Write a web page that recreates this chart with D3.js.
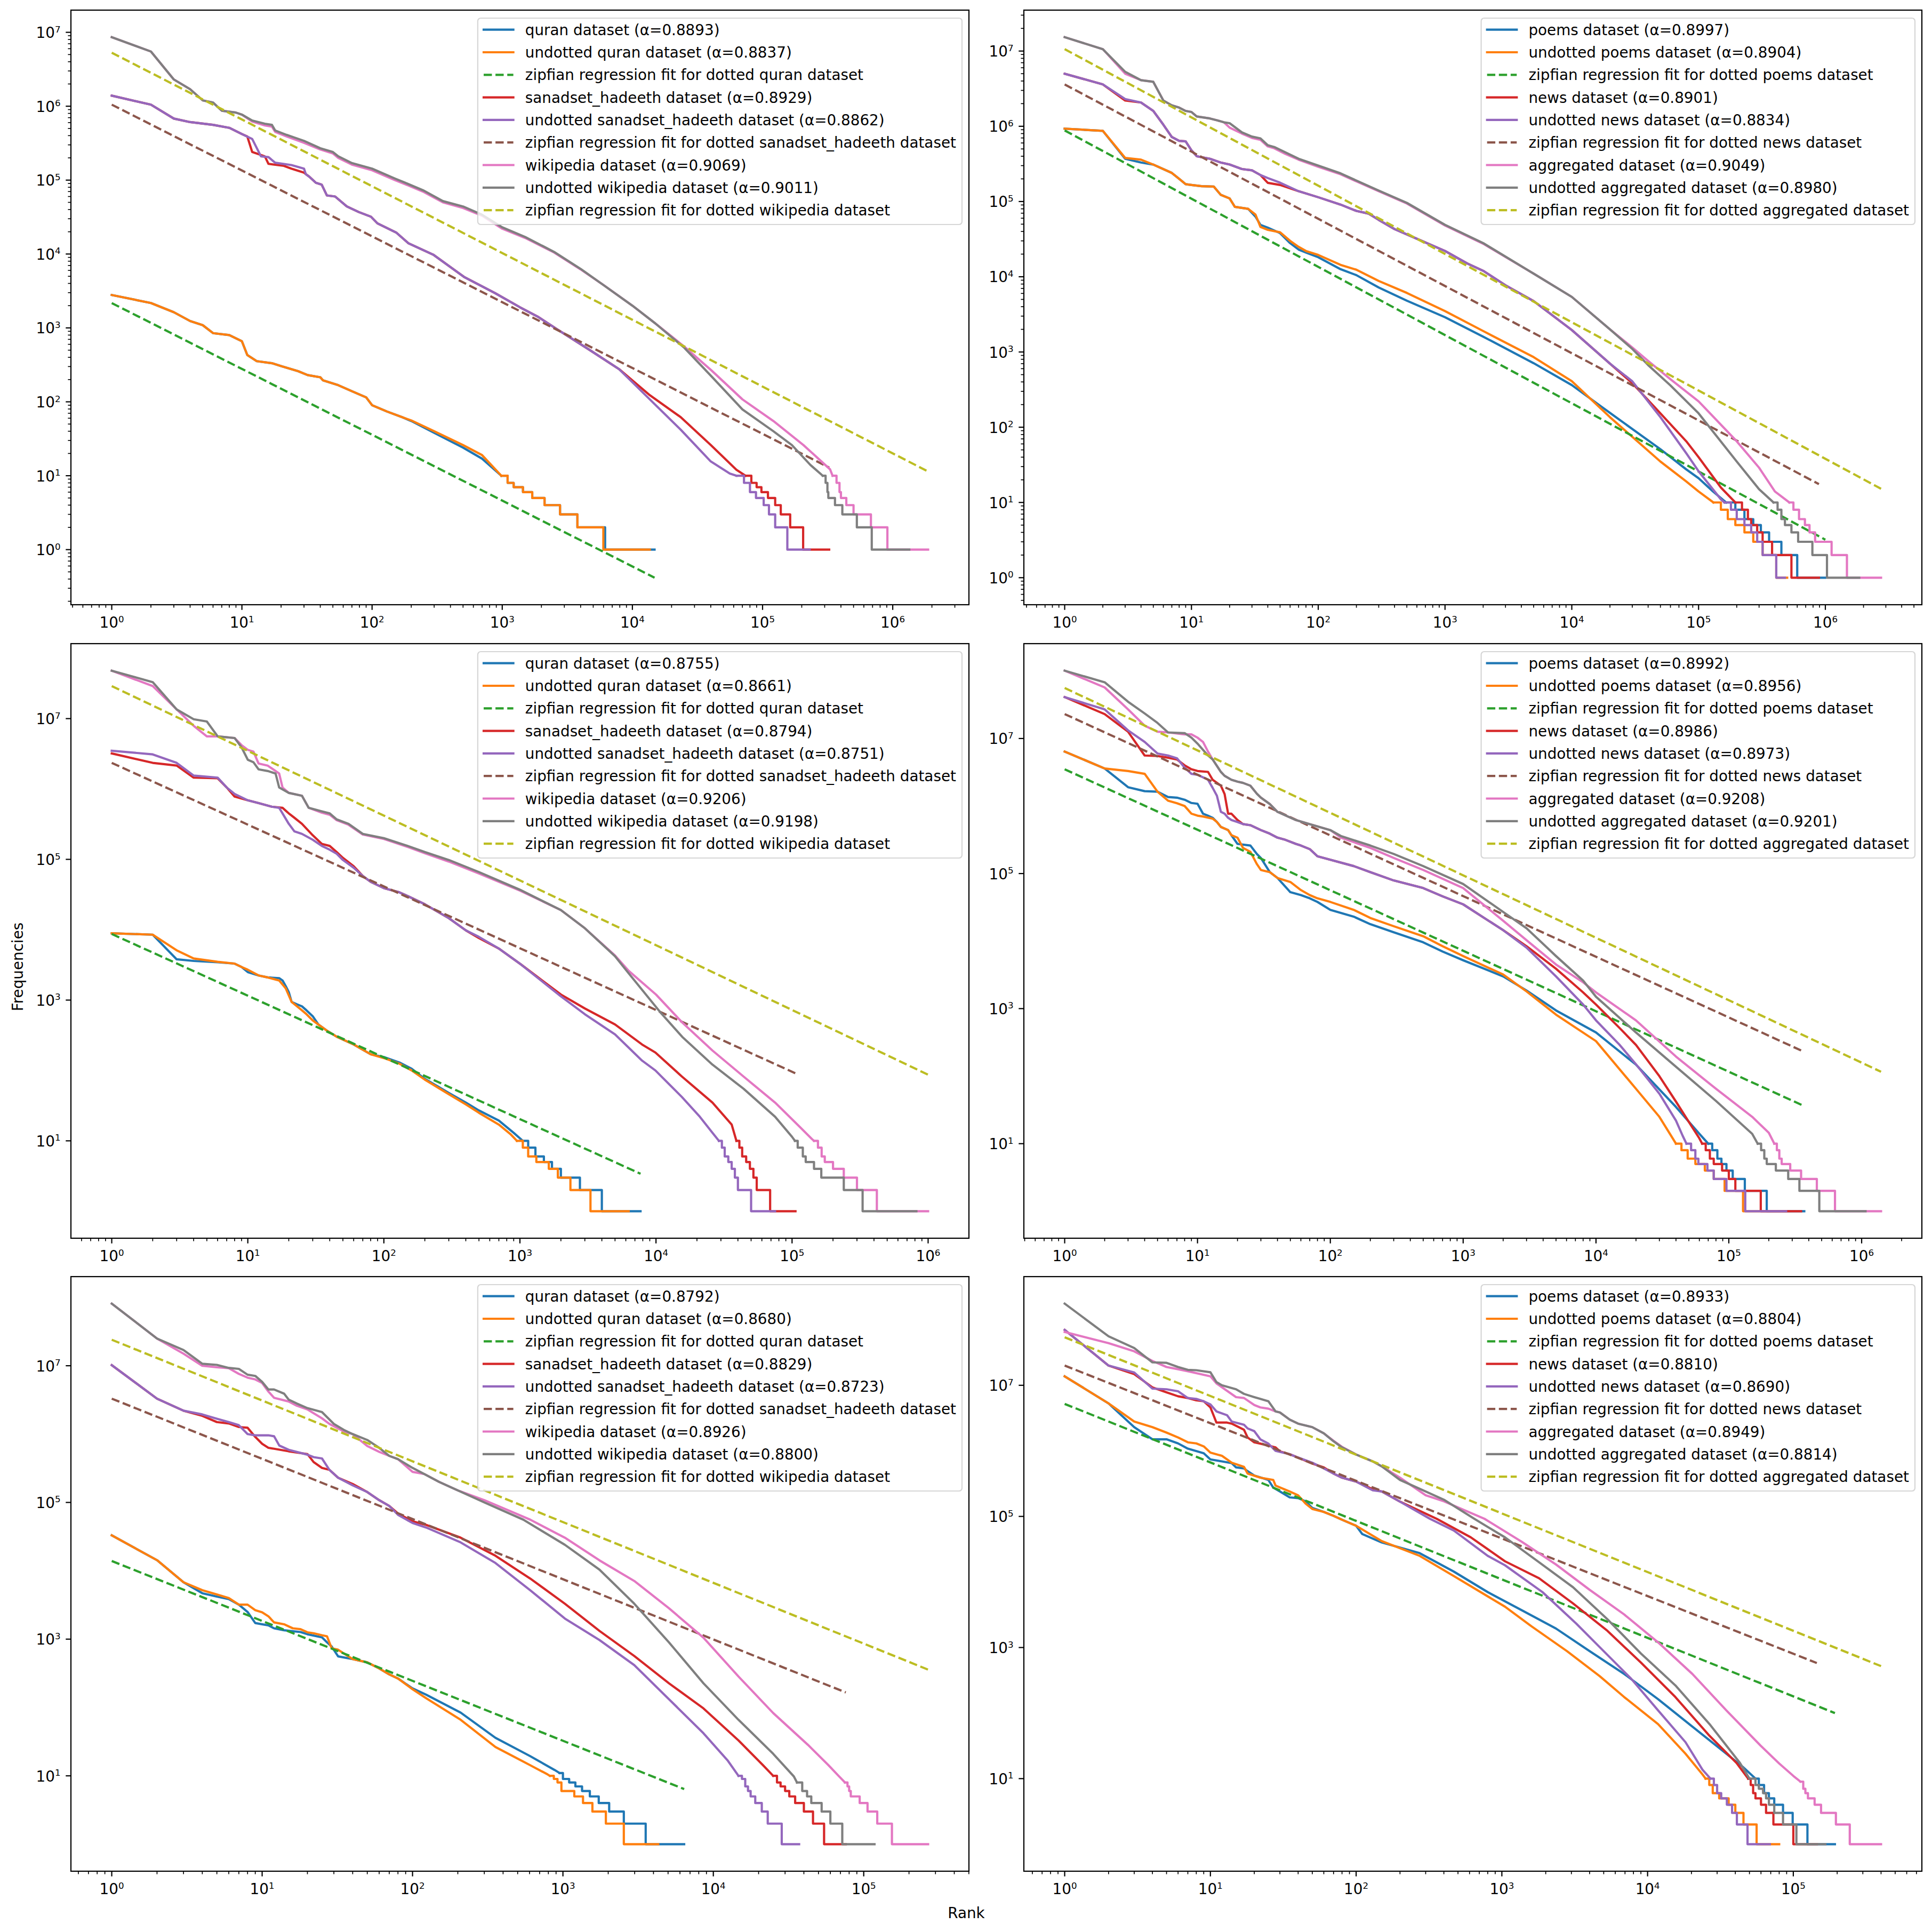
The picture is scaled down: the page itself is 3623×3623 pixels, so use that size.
<!DOCTYPE html>
<html>
<head>
<meta charset="utf-8">
<script src="https://cdn.jsdelivr.net/npm/d3@7"></script>
<style>
  body { margin: 0; background: #fff; }
  text { font-family: "DejaVu Sans", sans-serif; fill: #000; }
</style>
</head>
<body>
<svg id="fig" width="3623" height="3623"></svg>
<script>
/* ---------- data: [rank, frequency] ---------- */
/* each curve: smooth head + stair tail (tail drawn as steps)        */

// top-left
const a_names = ["quran", "sanadset_hadeeth", "wikipedia"]
const a_alphas = ["0.8893", "0.8837", "0.8929", "0.8862", "0.9069", "0.9011"]
const a_quran = [[1,2790],[2,2170],[3,1630],[4,1240],[5,1090],[6,850],[8,800],[10,660],[11,430],[13,355],[17,333],[20,305],[27,260],[32,230],[40,215],[42,195],[55,168],[70,139],[90,115],[100,90],[130,74],[170,62],[200,55],[300,38],[500,24],[700,17]]
const a_quranTail = [[984,10],[1100,8],[1224,7],[1443,6],[1700,5],[2114,4],[2780,3],[3780,2],[6170,1],[14800,1]]
const a_quranUnd = [[1,2790],[2,2170],[3,1630],[4,1240],[5,1090],[6,850],[8,800],[10,660],[11,430],[13,355],[17,333],[20,305],[27,260],[32,230],[40,215],[42,195],[55,168],[70,139],[90,115],[100,90],[130,74],[170,62],[200,56],[300,40],[500,26],[700,19]]
const a_quranUndTail = [[984,10],[1100,8],[1224,7],[1443,6],[1700,5],[2114,4],[2780,3],[3780,2],[5980,1],[13600,1]]
const a_quranFit = [[1,2170],[14800,0.417]]
const a_hadeeth = [[1,1.39e6],[2,1.05e6],[3,6.8e5],[4,6.1e5],[6,5.6e5],[8,5.1e5],[10,4.2e5],[11,3.9e5],[12,2.4e5],[15,2.1e5],[16,1.66e5],[21,1.56e5],[24,1.43e5],[30,1.26e5],[33,1.11e5],[37,9.2e4],[41,8.7e4],[45,6.2e4],[52,6.0e4],[64,4.4e4],[79,3.7e4],[98,3.2e4],[110,2.6e4],[154,1.94e4],[190,1.4e4],[295,9.8e3],[509,4.9e3],[880,2.96e3],[1370,1.9e3],[1900,1.4e3],[2640,960],[4600,515],[7900,277],[13600,123],[23500,62],[40000,26],[63000,12]]
const a_hadeethTail = [[7.4e4,10],[8.2e4,8],[9.0e4,7],[9.8e4,6],[1.1e5,5],[1.25e5,4],[1.38e5,3],[1.63e5,2],[2.05e5,1],[3.25e5,1]]
const a_hadeethUnd = [[1,1.39e6],[2,1.05e6],[3,6.8e5],[4,6.1e5],[6,5.6e5],[8,5.1e5],[10,4.2e5],[12,3.6e5],[14,2.1e5],[16,2.05e5],[18,1.72e5],[24,1.6e5],[30,1.43e5],[31,1.2e5],[33,1.11e5],[37,9.2e4],[41,8.7e4],[45,6.2e4],[52,6.0e4],[64,4.4e4],[79,3.7e4],[98,3.2e4],[110,2.6e4],[154,1.94e4],[190,1.4e4],[295,9.8e3],[509,4.9e3],[880,2.96e3],[1370,1.9e3],[1900,1.4e3],[2640,960],[4600,515],[7900,277],[13600,108],[23500,42],[40000,15.6],[56000,10.7]]
const a_hadeethUndTail = [[6.3e4,10],[7.2e4,8],[8.0e4,6],[8.9e4,5],[1.02e5,4],[1.12e5,3],[1.25e5,2],[1.55e5,1],[2.3e5,1]]
const a_hadeethFit = [[1,1.05e6],[3.25e5,12.9]]
const a_wiki = [[1,8.6e6],[2,5.5e6],[3,2.3e6],[4,1.7e6],[5,1.2e6],[6,1.12e6],[7,8.7e5],[9,8.2e5],[10,7.7e5],[12,6.2e5],[15,5.5e5],[17,5.3e5],[18,4.5e5],[22,3.9e5],[30,3.2e5],[40,2.6e5],[50,2.3e5],[55,2.0e5],[70,1.62e5],[100,1.36e5],[150,1.0e5],[180,8.8e4],[250,6.9e4],[350,5.0e4],[500,4.2e4],[700,3.3e4],[1000,2.2e4],[1500,1.65e4],[2500,1.05e4],[4000,6.2e3],[6000,3.8e3],[10000,2.0e3],[15000,1.15e3],[25000,560],[40600,265],[70000,108],[121000,55],[206000,26],[330000,12.2]]
const a_wikiTail = [[3.45e5,10],[3.7e5,8],[3.9e5,6],[4.0e5,5],[4.4e5,4],[5.0e5,3],[6.8e5,2],[9.1e5,1],[1.87e6,1]]
const a_wikiUnd = [[1,8.6e6],[2,5.5e6],[3,2.3e6],[4,1.7e6],[5,1.2e6],[6,1.12e6],[7,8.7e5],[9,8.2e5],[10,7.7e5],[12,6.4e5],[15,5.8e5],[17,5.6e5],[18,4.7e5],[22,4.1e5],[30,3.4e5],[40,2.7e5],[50,2.4e5],[55,2.1e5],[70,1.7e5],[100,1.43e5],[150,1.05e5],[180,9.2e4],[250,7.2e4],[350,5.2e4],[500,4.4e4],[700,3.4e4],[1000,2.3e4],[1500,1.7e4],[2500,1.07e4],[4000,6.3e3],[6000,3.8e3],[10000,2.0e3],[15000,1.15e3],[25000,540],[40600,220],[70000,79],[121000,40],[168000,26],[233000,14]]
const a_wikiUndTail = [[2.9e5,10],[3.05e5,8],[3.15e5,6],[3.2e5,5],[3.6e5,4],[4.1e5,3],[5.3e5,2],[6.9e5,1],[1.34e6,1]]
const a_wikiFit = [[1,5.3e6],[1.87e6,11.4]]

// top-right
const b_names = ["poems", "news", "aggregated"]
const b_alphas = ["0.8997", "0.8904", "0.8901", "0.8834", "0.9049", "0.8980"]
const b_poems = [[1,9.3e5],[2,8.7e5],[3,3.7e5],[4,3.3e5],[5,3.1e5],[7,2.4e5],[8,2.0e5],[9,1.7e5],[10,1.66e5],[12,1.6e5],[15,1.58e5],[17,1.23e5],[20,1.1e5],[22,8.5e4],[28,8.0e4],[32,6.3e4],[35,4.9e4],[40,4.5e4],[50,3.8e4],[60,2.8e4],[70,2.3e4],[80,2.1e4],[100,1.82e4],[150,1.26e4],[200,1.05e4],[300,7.2e3],[500,4.8e3],[1000,2.9e3],[2000,1.6e3],[5000,710],[10000,363],[20000,155],[50000,51],[80000,27.5],[100000,21],[130000,14]]
const b_poemsTail = [[1.65e5,10],[1.95e5,8],[2.3e5,6],[2.7e5,5],[3.1e5,4],[3.6e5,3],[4.5e5,2],[6.0e5,1],[1.0e6,1]]
const b_poemsUnd = [[1,9.3e5],[2,8.7e5],[3,3.8e5],[4,3.6e5],[5,3.1e5],[7,2.4e5],[8,2.0e5],[9,1.7e5],[10,1.66e5],[12,1.6e5],[15,1.58e5],[17,1.23e5],[20,1.1e5],[22,8.5e4],[28,8.0e4],[32,6.7e4],[35,4.6e4],[40,4.2e4],[50,3.9e4],[60,3.0e4],[70,2.5e4],[80,2.2e4],[100,1.95e4],[150,1.44e4],[200,1.24e4],[300,8.8e3],[500,6.1e3],[1000,3.5e3],[2000,1.9e3],[5000,855],[10000,409],[20000,136],[50000,35],[80000,19],[100000,14]]
const b_poemsUndTail = [[1.31e5,10],[1.5e5,8],[1.7e5,6],[1.95e5,5],[2.3e5,4],[2.7e5,3],[3.2e5,2],[4.1e5,1],[5.0e5,1]]
const b_poemsFit = [[1,8.8e5],[1.0e6,3.2]]
const b_news = [[1,5.0e6],[2,3.6e6],[3,2.2e6],[4,2.07e6],[5,1.6e6],[6,1.05e6],[7,7.2e5],[8,6.4e5],[9,6.3e5],[10,4.8e5],[11,4.0e5],[14,3.7e5],[17,3.3e5],[20,3.1e5],[25,2.7e5],[30,2.6e5],[35,2.25e5],[40,1.77e5],[50,1.66e5],[70,1.37e5],[100,1.14e5],[150,9.1e4],[200,7.5e4],[250,6.9e4],[300,5.7e4],[400,4.3e4],[600,3.2e4],[1000,2.2e4],[1500,1.5e4],[2000,1.2e4],[3000,7.7e3],[5000,4.75e3],[10000,1.96e3],[20000,700],[30000,385],[50000,153],[80000,65],[100000,40],[150000,15.8]]
const b_newsTail = [[1.95e5,10],[2.2e5,8],[2.45e5,6],[2.6e5,5],[2.9e5,4],[3.2e5,3],[3.8e5,2],[5.4e5,1],[8.9e5,1]]
const b_newsUnd = [[1,5.0e6],[2,3.6e6],[3,2.3e6],[4,2.07e6],[5,1.6e6],[6,1.05e6],[7,7.2e5],[8,6.4e5],[9,6.3e5],[10,4.8e5],[11,4.0e5],[14,3.7e5],[17,3.3e5],[20,3.1e5],[25,2.7e5],[30,2.6e5],[35,2.25e5],[40,2.05e5],[50,1.78e5],[70,1.37e5],[100,1.14e5],[150,9.1e4],[200,7.5e4],[250,6.9e4],[300,5.7e4],[400,4.3e4],[600,3.2e4],[1000,2.2e4],[1500,1.5e4],[2000,1.2e4],[3000,7.7e3],[5000,4.75e3],[10000,1.96e3],[20000,700],[30000,408],[50000,136],[80000,45],[100000,26],[150000,11]]
const b_newsUndTail = [[1.6e5,10],[1.8e5,8],[2.0e5,6],[2.3e5,5],[2.6e5,4],[2.9e5,3],[3.2e5,2],[4.1e5,1],[4.8e5,1]]
const b_newsFit = [[1,3.6e6],[8.9e5,17.5]]
const b_agg = [[1,1.53e7],[2,1.06e7],[3,5.0e6],[4,4.1e6],[5,3.9e6],[6,2.2e6],[7,1.9e6],[8,1.77e6],[9,1.6e6],[10,1.55e6],[11,1.35e6],[14,1.27e6],[16,1.2e6],[18,1.13e6],[20,9.6e5],[25,8.0e5],[30,7.0e5],[35,6.6e5],[40,5.4e5],[45,5.1e5],[55,4.3e5],[70,3.6e5],[100,2.9e5],[150,2.3e5],[200,1.85e5],[300,1.37e5],[500,9.4e4],[1000,4.8e4],[2000,2.75e4],[5000,1.1e4],[10000,5.4e3],[20000,2.0e3],[30000,1.15e3],[40000,760],[60000,435],[100000,221],[200000,65],[300000,29],[400000,14]]
const b_aggTail = [[5.2e5,10],[5.6e5,8],[6.2e5,6],[6.9e5,5],[7.5e5,4],[8.3e5,3],[1.12e6,2],[1.48e6,1],[2.75e6,1]]
const b_aggUnd = [[1,1.53e7],[2,1.06e7],[3,5.3e6],[4,4.1e6],[5,3.9e6],[6,2.2e6],[7,1.9e6],[8,1.77e6],[9,1.6e6],[10,1.55e6],[11,1.35e6],[14,1.27e6],[16,1.2e6],[18,1.13e6],[20,1.1e6],[25,8.3e5],[30,7.3e5],[35,6.9e5],[40,5.6e5],[45,5.3e5],[55,4.5e5],[70,3.7e5],[100,3.0e5],[150,2.37e5],[200,1.9e5],[300,1.4e5],[500,9.6e4],[1000,4.9e4],[2000,2.8e4],[5000,1.1e4],[10000,5.4e3],[20000,2.0e3],[30000,1.1e3],[40000,670],[60000,360],[100000,153],[200000,35],[300000,15]]
const b_aggUndTail = [[3.9e5,10],[4.2e5,8],[4.5e5,6],[4.8e5,5],[5.4e5,4],[6.1e5,3],[7.9e5,2],[1.03e6,1],[1.85e6,1]]
const b_aggFit = [[1,1.06e7],[2.75e6,15.2]]

// middle-left
const c_names = ["quran", "sanadset_hadeeth", "wikipedia"]
const c_alphas = ["0.8755", "0.8661", "0.8794", "0.8751", "0.9206", "0.9198"]
const c_quran = [[1,8.9e3],[2,8.5e3],[3,3.8e3],[4,3.6e3],[6,3.45e3],[8,3.3e3],[9,2.95e3],[10,2.5e3],[12,2.24e3],[14,2.1e3],[17,2.05e3],[18,1.9e3],[19,1.58e3],[20,1.3e3],[21,940],[23,870],[25,815],[27,715],[30,590],[33,450],[38,370],[45,302],[60,234],[80,170],[100,155],[130,130],[160,106],[200,76],[250,59],[300,48],[400,35],[500,27],[700,19.4],[900,13]]
const c_quranTail = [[1050,10],[1150,8],[1300,6],[1500,5],[1720,4],[2000,3],[2760,2],[4000,1],[7700,1]]
const c_quranUnd = [[1,8.9e3],[2,8.5e3],[3,5.1e3],[4,3.9e3],[6,3.5e3],[8,3.3e3],[9,2.95e3],[10,2.7e3],[12,2.24e3],[14,2.1e3],[17,1.9e3],[19,1.47e3],[21,940],[25,715],[27,630],[30,515],[33,450],[38,370],[45,302],[60,234],[80,170],[100,150],[130,125],[160,100],[200,74],[250,57],[300,46],[400,33],[500,25],[700,17],[850,12.5]]
const c_quranUndTail = [[950,10],[1050,8],[1150,6],[1320,5],[1630,4],[1900,3],[2350,2],[3300,1],[6300,1]]
const c_quranFit = [[1,8.7e3],[7.7e3,3.4]]
const c_hadeeth = [[1,3.2e6],[2,2.35e6],[3,2.15e6],[4,1.45e6],[6,1.42e6],[7,1.05e6],[8,7.8e5],[10,6.9e5],[12,6.3e5],[15,5.6e5],[18,5.4e5],[20,4.5e5],[22,3.9e5],[25,3.2e5],[30,2.2e5],[35,1.66e5],[40,1.55e5],[45,1.27e5],[50,1.05e5],[60,8.0e4],[70,5.8e4],[80,4.8e4],[100,3.9e4],[130,3.4e4],[150,3.0e4],[200,2.3e4],[300,1.46e4],[400,9.8e3],[500,7.6e3],[700,5.4e3],[1020,3.2e3],[2000,1.2e3],[3000,760],[5000,450],[7900,234],[9900,180],[15500,82],[26000,35],[36000,17]]
const c_hadeethTail = [[3.9e4,10],[4.1e4,8],[4.3e4,6],[4.6e4,5],[4.9e4,4],[5.2e4,3],[5.5e4,2],[6.9e4,1],[1.06e5,1]]
const c_hadeethUnd = [[1,3.5e6],[2,3.1e6],[3,2.35e6],[4,1.55e6],[6,1.45e6],[7,1.05e6],[8,8.5e5],[10,6.9e5],[12,6.3e5],[15,5.6e5],[17,5.4e5],[18,4.5e5],[20,3.2e5],[22,2.5e5],[25,2.3e5],[30,1.9e5],[35,1.55e5],[40,1.37e5],[45,1.2e5],[50,9.8e4],[60,7.6e4],[70,5.8e4],[80,4.8e4],[100,3.9e4],[130,3.4e4],[150,3.0e4],[200,2.3e4],[300,1.46e4],[400,9.8e3],[500,7.9e3],[700,5.4e3],[1020,3.2e3],[2000,1.13e3],[3000,630],[5000,325],[7900,138],[9900,100],[15500,42],[21000,22],[26000,13]]
const c_hadeethUndTail = [[2.9e4,10],[3.05e4,8],[3.2e4,6],[3.4e4,5],[3.6e4,4],[3.8e4,3],[4.0e4,2],[5.0e4,1],[7.5e4,1]]
const c_hadeethFit = [[1,2.35e6],[1.06e5,91]]
const c_wiki = [[1,4.8e7],[2,2.9e7],[3,1.35e7],[4,7.9e6],[5,5.6e6],[6,5.6e6],[8,5.3e6],[9,4.2e6],[10,3.6e6],[11,3.4e6],[12,2.3e6],[14,2.15e6],[17,1.66e6],[18,1.05e6],[20,8.8e5],[25,8.0e5],[28,5.4e5],[35,4.6e5],[40,4.3e5],[45,3.6e5],[55,3.1e5],[70,2.25e5],[100,1.95e5],[150,1.5e5],[200,1.22e5],[300,9.3e4],[500,6.3e4],[1000,3.6e4],[2000,1.9e4],[3000,1.05e4],[5000,4.3e3],[6300,2.6e3],[10000,1.2e3],[15600,480],[26000,192],[44000,82],[75000,35],[114000,15.8],[140000,10.6]]
const c_wikiTail = [[1.45e5,10],[1.55e5,8],[1.65e5,6],[1.74e5,5],[2.0e5,4],[2.4e5,3],[3.0e5,2],[4.2e5,1],[1.0e6,1]]
const c_wikiUnd = [[1,4.8e7],[2,3.3e7],[3,1.35e7],[4,9.8e6],[5,9.1e6],[6,5.6e6],[8,5.3e6],[9,3.9e6],[10,2.6e6],[11,2.4e6],[12,1.9e6],[14,1.8e6],[16,1.66e6],[17,1.05e6],[20,8.8e5],[25,8.0e5],[28,5.4e5],[35,4.8e5],[40,4.5e5],[45,3.7e5],[55,3.2e5],[70,2.3e5],[100,2.0e5],[150,1.55e5],[200,1.27e5],[300,9.8e4],[500,6.6e4],[1000,3.7e4],[2000,1.9e4],[3000,1.05e4],[5000,4.2e3],[6300,2.4e3],[10700,680],[15600,300],[26000,121],[44000,55],[75000,22],[100000,11.4]]
const c_wikiUndTail = [[1.05e5,10],[1.1e5,8],[1.2e5,6],[1.26e5,5],[1.45e5,4],[1.64e5,3],[2.4e5,2],[3.3e5,1],[8.2e5,1]]
const c_wikiFit = [[1,2.9e7],[1.0e6,87]]

// middle-right
const d_names = ["poems", "news", "aggregated"]
const d_alphas = ["0.8992", "0.8956", "0.8986", "0.8973", "0.9208", "0.9201"]
const d_poems = [[1,6.4e6],[2,3.6e6],[3,1.9e6],[4,1.66e6],[5,1.63e6],[6,1.36e6],[7,1.33e6],[8,1.24e6],[9,1.11e6],[10,1.08e6],[11,7.7e5],[12,7.2e5],[13,6.7e5],[14,5.8e5],[15,4.9e5],[17,4.4e5],[18,3.7e5],[20,2.75e5],[25,2.6e5],[28,1.95e5],[30,1.7e5],[35,1.05e5],[40,8.6e4],[50,5.3e4],[60,4.8e4],[70,4.3e4],[80,3.8e4],[100,2.9e4],[150,2.3e4],[200,1.78e4],[300,1.35e4],[500,9.6e3],[700,7.0e3],[1000,5.2e3],[2000,3.0e3],[3000,1.85e3],[5000,940],[10000,443],[20000,148],[40000,35],[60000,14]]
const d_poemsTail = [[7.0e4,10],[7.5e4,8],[8.2e4,6],[8.8e4,5],[9.6e4,4],[1.07e5,3],[1.32e5,2],[1.93e5,1],[3.7e5,1]]
const d_poemsUnd = [[1,6.4e6],[2,3.6e6],[3,3.3e6],[4,3.0e6],[5,1.63e6],[6,1.2e6],[7,1.1e6],[8,1.0e6],[9,7.7e5],[10,7.2e5],[11,7.0e5],[13,6.5e5],[14,5.8e5],[15,4.9e5],[17,4.4e5],[18,3.7e5],[20,3.4e5],[22,2.4e5],[25,2.1e5],[28,1.38e5],[30,1.13e5],[35,1.05e5],[40,8.6e4],[50,7.5e4],[60,5.7e4],[70,4.8e4],[80,4.3e4],[100,3.8e4],[150,2.9e4],[200,2.2e4],[300,1.66e4],[500,1.18e4],[700,8.4e3],[1000,6.0e3],[2000,3.2e3],[3000,1.8e3],[5000,815],[10000,330],[20000,65],[30000,25],[36000,14]]
const d_poemsUndTail = [[4.0e4,10],[4.4e4,8],[4.9e4,6],[5.6e4,5],[6.6e4,4],[7.7e4,3],[9.3e4,2],[1.28e5,1],[2.7e5,1]]
const d_poemsFit = [[1,3.5e6],[3.7e5,36]]
const d_news = [[1,4.1e7],[2,2.3e7],[3,1.26e7],[4,5.6e6],[5,5.5e6],[6,5.2e6],[7,4.9e6],[8,4.0e6],[9,3.5e6],[10,3.3e6],[12,3.2e6],[13,2.45e6],[15,2.0e6],[16,1.5e6],[17,7.7e5],[18,7.7e5],[20,6.2e5],[22,5.4e5],[25,5.2e5],[30,4.4e5],[35,3.9e5],[40,3.4e5],[45,3.2e5],[55,2.75e5],[60,2.6e5],[70,2.3e5],[80,1.8e5],[100,1.6e5],[150,1.29e5],[200,1.05e5],[300,7.9e4],[500,6.1e4],[700,4.6e4],[1000,3.5e4],[2000,1.45e4],[3000,8.4e3],[5000,3.9e3],[8000,1.74e3],[10000,1.15e3],[15000,520],[20000,290],[30000,100],[40000,42],[50000,21],[60000,12]]
const d_newsTail = [[6.3e4,10],[6.7e4,8],[7.2e4,6],[7.7e4,5],[8.9e4,4],[1.0e5,3],[1.12e5,2],[1.74e5,1],[3.5e5,1]]
const d_newsUnd = [[1,4.1e7],[2,2.7e7],[3,1.32e7],[4,8.9e6],[5,6.0e6],[6,5.6e6],[7,5.1e6],[8,3.7e6],[9,3.0e6],[10,2.9e6],[12,2.45e6],[13,1.86e6],[14,1.42e6],[15,8.2e5],[16,7.7e5],[17,6.7e5],[18,6.2e5],[20,5.8e5],[22,5.4e5],[25,5.2e5],[30,4.4e5],[35,3.9e5],[40,3.4e5],[45,3.2e5],[55,2.75e5],[60,2.6e5],[70,2.3e5],[80,1.8e5],[100,1.6e5],[150,1.29e5],[200,1.05e5],[300,7.9e4],[500,6.1e4],[700,4.6e4],[1000,3.5e4],[2000,1.45e4],[3000,8.0e3],[5000,3.0e3],[8000,1.15e3],[10000,670],[15000,293],[20000,150],[30000,55],[40000,22],[45000,13]]
const d_newsUndTail = [[4.8e4,10],[5.2e4,8],[5.6e4,6],[5.9e4,5],[6.9e4,4],[7.7e4,3],[9.6e4,2],[1.33e5,1],[2.7e5,1]]
const d_newsFit = [[1,2.3e7],[3.5e5,240]]
const d_agg = [[1,1.01e8],[2,5.7e7],[3,2.7e7],[4,1.55e7],[5,1.26e7],[6,1.23e7],[8,1.15e7],[9,1.15e7],[10,1.03e7],[11,8.9e6],[12,6.4e6],[13,4.9e6],[15,3.2e6],[16,2.8e6],[18,2.45e6],[20,2.3e6],[22,2.2e6],[25,2.0e6],[28,1.52e6],[30,1.33e6],[35,1.07e6],[40,8.2e5],[45,7.4e5],[55,6.2e5],[70,5.4e5],[100,4.4e5],[120,3.4e5],[200,2.4e5],[300,1.7e5],[500,1.13e5],[1000,6.1e4],[2000,2.0e4],[3000,1.03e4],[5000,4.5e3],[8000,2.45e3],[10000,1.74e3],[20000,670],[40000,195],[80000,65],[150000,25],[200000,14.5]]
const d_aggTail = [[2.2e5,10],[2.3e5,8],[2.4e5,6],[2.5e5,5],[2.9e5,4],[3.5e5,3],[4.6e5,2],[6.3e5,1],[1.4e6,1]]
const d_aggUnd = [[1,1.01e8],[2,6.8e7],[3,3.5e7],[4,2.35e7],[5,1.7e7],[6,1.23e7],[8,1.2e7],[9,1.03e7],[10,8.4e6],[11,6.8e6],[12,5.6e6],[13,4.9e6],[15,3.2e6],[16,2.8e6],[18,2.45e6],[20,2.3e6],[22,2.2e6],[25,2.0e6],[28,1.52e6],[30,1.33e6],[35,1.07e6],[40,8.2e5],[45,7.4e5],[55,6.2e5],[70,5.4e5],[100,4.4e5],[120,3.6e5],[200,2.6e5],[300,1.95e5],[500,1.29e5],[1000,7.0e4],[2000,2.7e4],[3000,1.55e4],[5000,6.0e3],[8000,2.6e3],[10000,1.5e3],[20000,443],[40000,138],[80000,43],[150000,14]]
const d_aggUndTail = [[1.65e5,10],[1.75e5,8],[1.85e5,6],[1.93e5,5],[2.26e5,4],[2.8e5,3],[3.4e5,2],[4.8e5,1],[1.07e6,1]]
const d_aggFit = [[1,5.6e7],[1.4e6,116]]

// bottom-left
const e_names = ["quran", "sanadset_hadeeth", "wikipedia"]
const e_alphas = ["0.8792", "0.8680", "0.8829", "0.8723", "0.8926", "0.8800"]
const e_quran = [[1,3.3e4],[2,1.43e4],[3,6.8e3],[4,4.7e3],[5,4.2e3],[6,3.85e3],[7,3.2e3],[8,2.5e3],[9,1.72e3],[11,1.59e3],[12,1.44e3],[14,1.35e3],[18,1.27e3],[20,1.18e3],[25,1.06e3],[27,900],[29,780],[32,560],[40,510],[50,457],[60,373],[70,305],[80,266],[100,190],[123,154],[209,84],[356,36],[606,19.4],[879,12.2]]
const e_quranTail = [[950,11],[1000,9],[1100,8],[1210,7],[1340,6],[1510,5],[1730,4],[2030,3],[2540,2],[3550,1],[6400,1]]
const e_quranUnd = [[1,3.3e4],[2,1.43e4],[3,6.8e3],[4,5.2e3],[5,4.5e3],[6,4.0e3],[7,3.2e3],[8,3.2e3],[9,2.65e3],[10,2.47e3],[11,2.16e3],[12,1.76e3],[14,1.65e3],[16,1.44e3],[18,1.4e3],[20,1.26e3],[22,1.22e3],[25,1.14e3],[27,1.1e3],[29,733],[32,700],[40,510],[50,457],[60,373],[70,305],[80,266],[100,185],[123,137],[209,66],[356,26.4],[606,14.3],[790,10.5]]
const e_quranUndTail = [[820,10],[870,9],[920,8],[977,6],[1190,5],[1360,4],[1570,3],[1930,2],[2540,1],[4300,1]]
const e_quranFit = [[1,1.39e4],[6.4e3,6.4]]
const e_hadeeth = [[1,1.02e7],[2,3.3e6],[3,2.2e6],[4,1.85e6],[5,1.5e6],[6,1.43e6],[7,1.27e6],[8,1.24e6],[9,9.1e5],[10,7.2e5],[11,6.3e5],[12,6.1e5],[15,5.6e5],[20,5.1e5],[22,3.9e5],[25,3.2e5],[28,3.0e5],[32,2.3e5],[40,1.86e5],[50,1.42e5],[60,1.08e5],[70,8.9e4],[80,6.9e4],[100,5.3e4],[123,4.7e4],[209,3.05e4],[356,1.66e4],[606,7.7e3],[1030,3.3e3],[1750,1.32e3],[2980,567],[5070,226],[8600,97],[14700,33],[21400,14.3]]
const e_hadeethTail = [[2.5e4,10],[2.65e4,8],[2.8e4,7],[3.0e4,6],[3.2e4,5],[3.5e4,4],[4.0e4,3],[4.6e4,2],[5.45e4,1],[7.6e4,1]]
const e_hadeethUnd = [[1,1.02e7],[2,3.3e6],[3,2.2e6],[4,1.94e6],[5,1.68e6],[6,1.5e6],[7,1.35e6],[8,1.0e6],[9,9.6e5],[11,9.6e5],[12,9.3e5],[13,6.8e5],[15,5.9e5],[20,5.0e5],[22,4.6e5],[25,4.4e5],[28,3.0e5],[32,2.3e5],[40,1.78e5],[50,1.42e5],[60,1.08e5],[70,8.9e4],[80,6.6e4],[100,5.0e4],[123,4.3e4],[209,2.6e4],[356,1.3e4],[606,5.2e3],[1030,2.0e3],[1750,970],[2980,417],[5070,132],[8600,42],[12500,16.6]]
const e_hadeethUndTail = [[1.47e4,10],[1.55e4,9],[1.63e4,7],[1.7e4,6],[1.77e4,5],[1.9e4,4],[2.1e4,3],[2.3e4,2],[2.85e4,1],[3.72e4,1]]
const e_hadeethFit = [[1,3.3e6],[7.6e4,166]]
const e_wiki = [[1,8.1e7],[2,2.5e7],[3,1.5e7],[4,1.0e7],[5,9.5e6],[6,9.2e6],[7,7.6e6],[8,6.7e6],[9,6.3e6],[10,5.6e6],[11,4.2e6],[12,3.4e6],[15,3.0e6],[17,2.6e6],[20,2.3e6],[25,1.7e6],[28,1.41e6],[35,1.09e6],[40,1.0e6],[50,6.7e5],[60,5.5e5],[70,4.8e5],[80,4.3e5],[100,2.8e5],[120,2.6e5],[150,2.0e5],[200,1.5e5],[300,1.08e5],[606,5.6e4],[1030,3.05e4],[1750,1.42e4],[2980,7.1e3],[5070,2.83e3],[8600,1.05e3],[14700,284],[25000,83],[42500,28.5],[58300,14.3],[68000,10]]
const e_wikiTail = [[7.5e4,8],[7.8e4,7],[8.0e4,6],[8.2e4,5],[9.4e4,4],[1.06e5,3],[1.23e5,2],[1.54e5,1],[2.68e5,1]]
const e_wikiUnd = [[1,8.1e7],[2,2.5e7],[3,1.7e7],[4,1.07e7],[5,1.03e7],[6,9.3e6],[7,9.0e6],[8,7.4e6],[9,7.1e6],[10,5.8e6],[11,4.5e6],[12,4.5e6],[14,3.9e6],[15,3.2e6],[17,2.8e6],[20,2.4e6],[25,2.1e6],[30,1.41e6],[35,1.15e6],[40,1.0e6],[50,8.2e5],[60,6.3e5],[70,4.8e5],[80,4.3e5],[100,3.2e5],[120,2.6e5],[150,2.0e5],[200,1.5e5],[300,1.0e5],[545,5.6e4],[1030,2.4e4],[1750,1.04e4],[2980,3.3e3],[5070,897],[8600,226],[14700,66],[25000,21],[34300,9.8]]
const e_wikiUndTail = [[3.6e4,8],[3.9e4,6],[4.2e4,5],[4.48e4,4],[5.25e4,3],[6.0e4,2],[7.2e4,1],[1.18e5,1]]
const e_wikiFit = [[1,2.4e7],[2.68e5,358]]

// bottom-right
const f_names = ["poems", "news", "aggregated"]
const f_alphas = ["0.8933", "0.8804", "0.8810", "0.8690", "0.8949", "0.8814"]
const f_poems = [[1,1.37e7],[2,5.3e6],[3,2.3e6],[4,1.5e6],[5,1.5e6],[6,1.3e6],[7,1.08e6],[9,9.2e5],[10,7.4e5],[12,6.9e5],[14,6.5e5],[15,5.6e5],[17,5.4e5],[18,4.9e5],[20,4.2e5],[25,3.6e5],[27,2.75e5],[30,2.4e5],[35,1.95e5],[40,1.9e5],[45,1.7e5],[50,1.35e5],[60,1.17e5],[70,1.02e5],[80,8.9e4],[100,7.2e4],[110,5.4e4],[150,4.0e4],[273,2.75e4],[468,1.44e4],[800,7.0e3],[1370,3.7e3],[2350,1.95e3],[4000,880],[6900,396],[11800,163],[20300,62],[34700,24],[45500,14.8]]
const f_poemsTail = [[5.5e4,10],[5.8e4,8],[6.3e4,6],[6.8e4,5],[7.4e4,4],[8.5e4,3],[9.9e4,2],[1.25e5,1],[1.93e5,1]]
const f_poemsUnd = [[1,1.37e7],[2,5.3e6],[3,2.8e6],[4,2.3e6],[5,1.9e6],[6,1.6e6],[7,1.35e6],[8,1.3e6],[9,1.17e6],[10,9.4e5],[12,8.4e5],[14,6.6e5],[17,5.7e5],[18,4.5e5],[22,3.9e5],[27,3.6e5],[28,2.95e5],[35,2.4e5],[40,2.1e5],[45,1.57e5],[50,1.3e5],[60,1.17e5],[70,1.02e5],[80,8.9e4],[100,7.2e4],[150,4.2e4],[273,2.5e4],[468,1.23e4],[1050,4.2e3],[1600,2.1e3],[2800,880],[4700,365],[6900,176],[11800,68],[18200,24],[23800,11.6]]
const f_poemsUndTail = [[2.5e4,10],[2.65e4,8],[2.8e4,6],[3.1e4,5],[3.6e4,4],[4.0e4,3],[4.55e4,2],[5.6e4,1],[8.0e4,1]]
const f_poemsFit = [[1,5.2e6],[1.93e5,100]]
const f_news = [[1,7.0e7],[2,2.0e7],[3,1.48e7],[4,9.3e6],[5,7.8e6],[6,6.8e6],[7,6.4e6],[8,5.9e6],[9,5.7e6],[10,4.6e6],[11,2.7e6],[13,2.7e6],[14,2.6e6],[17,2.1e6],[18,1.6e6],[20,1.35e6],[22,1.29e6],[28,1.13e6],[30,9.8e5],[35,8.9e5],[40,7.9e5],[50,6.4e5],[60,5.6e5],[70,4.5e5],[80,3.9e5],[100,3.4e5],[130,2.6e5],[150,2.4e5],[200,1.68e5],[357,9.2e4],[612,4.8e4],[1050,2.07e4],[1800,1.14e4],[3080,4.7e3],[5300,1.8e3],[9000,589],[15500,176],[26600,45],[40700,17.4]]
const f_newsTail = [[4.9e4,10],[5.1e4,8],[5.3e4,6],[5.5e4,5],[6.0e4,4],[6.5e4,3],[7.3e4,2],[1.0e5,1],[1.45e5,1]]
const f_newsUnd = [[1,7.0e7],[2,2.0e7],[3,1.57e7],[4,8.9e6],[5,8.7e6],[6,8.1e6],[7,6.4e6],[8,6.2e6],[9,5.7e6],[10,5.1e6],[11,4.0e6],[13,3.5e6],[14,2.8e6],[17,2.5e6],[18,2.2e6],[20,2.0e6],[22,1.5e6],[25,1.29e6],[28,1.0e6],[35,8.9e5],[40,7.9e5],[50,6.6e5],[60,5.4e5],[70,4.5e5],[80,3.9e5],[100,3.4e5],[130,2.5e5],[150,2.4e5],[200,1.68e5],[321,9.2e4],[468,6.1e4],[800,2.5e4],[1050,1.8e4],[1900,7.0e3],[3250,2.3e3],[5000,880],[7700,336],[11800,110],[18200,36],[23800,13.7]]
const f_newsUndTail = [[2.7e4,10],[2.85e4,8],[3.0e4,6],[3.2e4,5],[3.5e4,4],[3.8e4,3],[4.1e4,2],[4.85e4,1],[6.9e4,1]]
const f_newsFit = [[1,2.0e7],[1.45e5,580]]
const f_agg = [[1,6.5e7],[2,4.4e7],[3,3.3e7],[4,2.35e7],[5,1.9e7],[6,1.76e7],[7,1.64e7],[8,1.53e7],[10,1.37e7],[11,1.07e7],[15,6.6e6],[17,6.4e6],[20,5.0e6],[22,4.6e6],[25,4.4e6],[28,4.0e6],[30,3.85e6],[35,3.0e6],[40,2.6e6],[50,2.3e6],[60,1.85e6],[70,1.42e6],[80,1.15e6],[100,8.8e5],[130,6.9e5],[150,5.8e5],[200,3.9e5],[300,2.1e5],[400,1.7e5],[760,9.2e4],[1370,4.1e4],[2350,1.85e4],[4000,7.6e3],[6900,3.2e3],[11800,1.2e3],[20300,395],[34700,110],[59500,32],[80000,17],[100000,11]]
const f_aggTail = [[1.12e5,9],[1.17e5,7],[1.21e5,6],[1.26e5,5],[1.4e5,4],[1.55e5,3],[1.96e5,2],[2.44e5,1],[4.0e5,1]]
const f_aggUnd = [[1,1.76e8],[2,5.6e7],[3,3.7e7],[4,2.24e7],[5,2.2e7],[6,1.9e7],[7,1.72e7],[8,1.7e7],[10,1.58e7],[11,1.12e7],[12,1.0e7],[15,8.7e6],[17,7.4e6],[20,6.6e6],[22,6.2e6],[25,5.7e6],[28,4.0e6],[30,3.85e6],[35,3.0e6],[40,2.6e6],[50,2.3e6],[60,1.85e6],[70,1.4e6],[80,1.13e6],[100,8.8e5],[130,6.9e5],[150,5.8e5],[200,3.6e5],[300,2.4e5],[400,1.8e5],[646,9.2e4],[1050,4.8e4],[1800,2.0e4],[3080,8.3e3],[5300,2.7e3],[9000,810],[15500,265],[26600,68],[43000,17.4]]
const f_aggUndTail = [[5.0e4,10],[5.5e4,8],[5.8e4,7],[6.2e4,6],[6.5e4,5],[6.8e4,4],[7.4e4,3],[8.5e4,2],[1.05e5,1],[1.66e5,1]]
const f_aggFit = [[1,5.4e7],[4.0e5,520]]

/* ---------- figure setup ---------- */
const W = 3623, H = 3623
const FS = 27.8            // 10pt text
const LW = 4.17            // 1.5pt lines
const colors = ["#1f77b4", "#ff7f0e", "#2ca02c", "#d62728", "#9467bd", "#8c564b", "#e377c2", "#7f7f7f", "#bcbd22"]
const colX = [133, 1920], rowY = [19, 1207, 2394]
const PW = 1684, PH = 1115

const panels = [
  { col: 0, row: 0, names: a_names, alphas: a_alphas, yStep: 1,
    series: [[a_quran, a_quranTail], [a_quranUnd, a_quranUndTail], [a_quranFit], [a_hadeeth, a_hadeethTail], [a_hadeethUnd, a_hadeethUndTail], [a_hadeethFit], [a_wiki, a_wikiTail], [a_wikiUnd, a_wikiUndTail], [a_wikiFit]] },
  { col: 1, row: 0, names: b_names, alphas: b_alphas, yStep: 1,
    series: [[b_poems, b_poemsTail], [b_poemsUnd, b_poemsUndTail], [b_poemsFit], [b_news, b_newsTail], [b_newsUnd, b_newsUndTail], [b_newsFit], [b_agg, b_aggTail], [b_aggUnd, b_aggUndTail], [b_aggFit]] },
  { col: 0, row: 1, names: c_names, alphas: c_alphas, yStep: 2,
    series: [[c_quran, c_quranTail], [c_quranUnd, c_quranUndTail], [c_quranFit], [c_hadeeth, c_hadeethTail], [c_hadeethUnd, c_hadeethUndTail], [c_hadeethFit], [c_wiki, c_wikiTail], [c_wikiUnd, c_wikiUndTail], [c_wikiFit]] },
  { col: 1, row: 1, names: d_names, alphas: d_alphas, yStep: 2,
    series: [[d_poems, d_poemsTail], [d_poemsUnd, d_poemsUndTail], [d_poemsFit], [d_news, d_newsTail], [d_newsUnd, d_newsUndTail], [d_newsFit], [d_agg, d_aggTail], [d_aggUnd, d_aggUndTail], [d_aggFit]] },
  { col: 0, row: 2, names: e_names, alphas: e_alphas, yStep: 2,
    series: [[e_quran, e_quranTail], [e_quranUnd, e_quranUndTail], [e_quranFit], [e_hadeeth, e_hadeethTail], [e_hadeethUnd, e_hadeethUndTail], [e_hadeethFit], [e_wiki, e_wikiTail], [e_wikiUnd, e_wikiUndTail], [e_wikiFit]] },
  { col: 1, row: 2, names: f_names, alphas: f_alphas, yStep: 2,
    series: [[f_poems, f_poemsTail], [f_poemsUnd, f_poemsUndTail], [f_poemsFit], [f_news, f_newsTail], [f_newsUnd, f_newsUndTail], [f_newsFit], [f_agg, f_aggTail], [f_aggUnd, f_aggUndTail], [f_aggFit]] }
]

function legendLabels(names, alphas) {
  const out = []
  names.forEach((n, i) => {
    out.push(`${n} dataset (α=${alphas[2 * i]})`)
    out.push(`undotted ${n} dataset (α=${alphas[2 * i + 1]})`)
    out.push(`zipfian regression fit for dotted ${n} dataset`)
  })
  return out
}

// log-axis limits with matplotlib's 5% margin
function logLimits(vals) {
  const [lo, hi] = d3.extent(vals, v => Math.log10(v))
  const pad = (hi - lo) * 0.05
  return [lo - pad, hi + pad]
}

const svg = d3.select("#fig")
svg.append("rect").attr("width", W).attr("height", H).attr("fill", "#fff")

function tickLabel(g, x, y, exp, anchor) {
  const t = g.append("text")
    .attr("x", x).attr("y", y)
    .attr("text-anchor", anchor)
    .attr("font-size", FS)
  t.append("tspan").text("10")
  t.append("tspan").attr("font-size", FS * 0.6).attr("dy", -10.5).text(exp < 0 ? "\u2212" + (-exp) : exp)
}

panels.forEach((p, pi) => {
  const x0 = colX[p.col], y0 = rowY[p.row]
  const pts = p.series.flatMap(s => s.flat())
  const lxl = logLimits(pts.map(d => d[0]))
  const lyl = logLimits(pts.map(d => d[1]))

  const x = d3.scaleLog().domain(lxl.map(v => 10 ** v)).range([x0, x0 + PW])
  const y = d3.scaleLog().domain(lyl.map(v => 10 ** v)).range([y0 + PH, y0])

  const clipId = "clip" + pi
  svg.append("clipPath").attr("id", clipId)
    .append("rect").attr("x", x0).attr("y", y0).attr("width", PW).attr("height", PH)

  const plot = svg.append("g").attr("clip-path", `url(#${clipId})`)
  const lin = d3.line().x(d => x(d[0])).y(d => y(d[1]))
  const stp = d3.line().x(d => x(d[0])).y(d => y(d[1])).curve(d3.curveStepAfter)

  p.series.forEach((s, i) => {
    const g = plot.append("g")
      .attr("fill", "none")
      .attr("stroke", colors[i])
      .attr("stroke-width", LW)
      .attr("stroke-linejoin", "round")
    if (s.length === 1) {
      g.append("path").attr("d", lin(s[0]))
        .attr("stroke-dasharray", "15.4,6.7")
        .attr("stroke-linecap", "butt")
    } else {
      g.append("path").attr("d", lin(s[0].concat([s[1][0]]))).attr("stroke-linecap", "square")
      g.append("path").attr("d", stp(s[1])).attr("stroke-linecap", "square")
    }
  })

  // ticks
  const ax = svg.append("g").attr("stroke", "#000")
  const lab = svg.append("g")
  const xb = y0 + PH

  for (let k = Math.floor(lxl[0]); k <= Math.ceil(lxl[1]); k++) {
    if (k >= lxl[0] && k <= lxl[1]) {
      const px = x(10 ** k)
      ax.append("line").attr("x1", px).attr("x2", px).attr("y1", xb).attr("y2", xb + 9.7).attr("stroke-width", 2.2)
      tickLabel(lab, px, xb + 43.4, k, "middle")
    }
    for (let j = 2; j <= 9; j++) {
      const lv = Math.log10(j) + k
      if (lv < lxl[0] || lv > lxl[1]) continue
      const px = x(10 ** lv)
      ax.append("line").attr("x1", px).attr("x2", px).attr("y1", xb).attr("y2", xb + 5.6).attr("stroke-width", 1.67)
    }
  }

  for (let k = Math.floor(lyl[0]); k <= Math.ceil(lyl[1]); k++) {
    const major = p.yStep === 1 || ((k % 2) + 2) % 2 === 1
    if (major && k >= lyl[0] && k <= lyl[1]) {
      const py = y(10 ** k)
      ax.append("line").attr("x1", x0 - 9.7).attr("x2", x0).attr("y1", py).attr("y2", py).attr("stroke-width", 2.2)
      tickLabel(lab, x0 - 19.4, py + 10.5, k, "end")
    }
    if (p.yStep !== 1) continue
    for (let j = 2; j <= 9; j++) {
      const lv = Math.log10(j) + k
      if (lv < lyl[0] || lv > lyl[1]) continue
      const py = y(10 ** lv)
      ax.append("line").attr("x1", x0 - 5.6).attr("x2", x0).attr("y1", py).attr("y2", py).attr("stroke-width", 1.67)
    }
  }

  // frame
  svg.append("rect")
    .attr("x", x0).attr("y", y0).attr("width", PW).attr("height", PH)
    .attr("fill", "none").attr("stroke", "#000").attr("stroke-width", 2.2)

  // legend (upper right)
  const labels = legendLabels(p.names, p.alphas)
  const lg = svg.append("g")
  const frame = lg.append("rect")
  const texts = labels.map(t => lg.append("text").attr("font-size", FS).text(t))
  const maxW = d3.max(texts, t => t.node().getComputedTextLength())
  const lgW = 100 + maxW, lgH = 387
  const lgR = x0 + PW - 13, lgT = y0 + 15, lgL = lgR - lgW
  frame.attr("x", lgL).attr("y", lgT).attr("width", lgW).attr("height", lgH)
    .attr("rx", 5.6)
    .attr("fill", "#fff").attr("fill-opacity", 0.8)
    .attr("stroke", "#cccccc").attr("stroke-opacity", 0.8).attr("stroke-width", 2.2)

  labels.forEach((t, i) => {
    const cy = lgT + 21.7 + i * 42.3
    const h = lg.insert("line", "text")
      .attr("x1", lgL + 11.1).attr("x2", lgL + 66.7)
      .attr("y1", cy).attr("y2", cy)
      .attr("stroke", colors[i]).attr("stroke-width", LW)
    if (i % 3 === 2) h.attr("stroke-dasharray", "15.4,6.7").attr("stroke-linecap", "butt")
    else h.attr("stroke-linecap", "square")
    texts[i].attr("x", lgL + 88.9).attr("y", cy + 10)
  })
})

// shared axis labels
svg.append("text")
  .attr("transform", "translate(42.5,1813) rotate(-90)")
  .attr("text-anchor", "middle").attr("font-size", FS)
  .text("Frequencies")

svg.append("text")
  .attr("x", 1812).attr("y", 3596.7)
  .attr("text-anchor", "middle").attr("font-size", FS)
  .text("Rank")
</script>
</body>
</html>
